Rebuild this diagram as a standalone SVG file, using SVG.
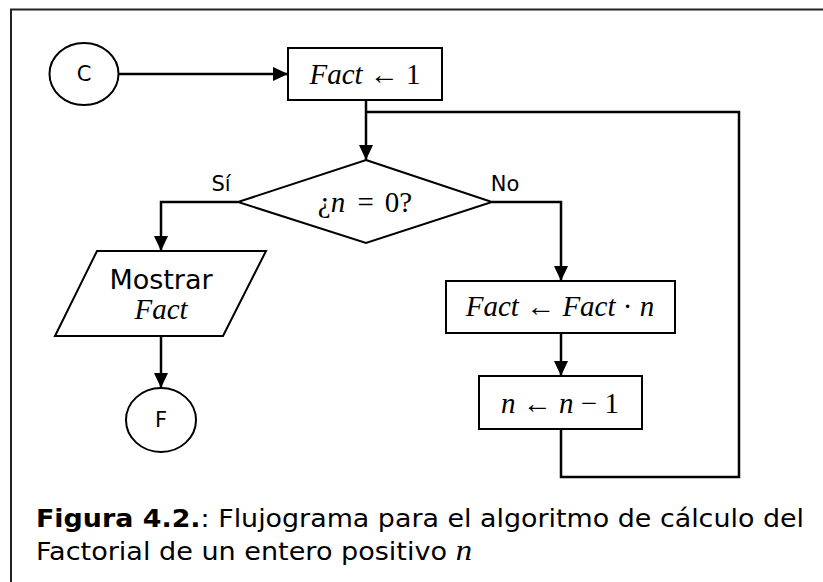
<svg xmlns="http://www.w3.org/2000/svg" width="823" height="582" viewBox="0 0 823 582">
  <style>
    .shape { fill: #fff; stroke: #000; stroke-width: 2; }
    .wire { fill: none; stroke: #000; stroke-width: 2.5; }
    .sans { font-family: "DejaVu Sans", Verdana, sans-serif; fill: #000; }
    .math { font-family: "Liberation Serif", "DejaVu Serif", serif; font-style: italic; font-size: 29px; fill: #000; }
    .up { font-style: normal; }
  </style>
  <defs>
    <marker id="arrow" markerUnits="userSpaceOnUse" markerWidth="15" markerHeight="14" refX="15" refY="7" orient="auto">
      <path d="M0,0 L15,7 L0,14 Z" fill="#000"/>
    </marker>
  </defs>

  <rect width="823" height="582" fill="#fff"/>
  <!-- outer frame (open to the right and bottom) -->
  <path d="M11,590 V9.5 H830" fill="none" stroke="#222" stroke-width="2"/>

  <!-- connectors -->
  <g id="connectors">
    <path class="wire" d="M118,74 H288" marker-end="url(#arrow)"/>
    <path class="wire" d="M366,100 V160" marker-end="url(#arrow)"/>
    <path class="wire" d="M238,202 H161 V251" marker-end="url(#arrow)"/>
    <path class="wire" d="M161,336 V388" marker-end="url(#arrow)"/>
    <path class="wire" d="M492,202 H561 V281" marker-end="url(#arrow)"/>
    <path class="wire" d="M561,333 V376" marker-end="url(#arrow)"/>
    <path class="wire" d="M561,429 V477 H739 V112 H366"/>
    <text class="sans" x="221" y="191" font-size="21" text-anchor="middle">Sí</text>
    <text class="sans" x="505" y="191" font-size="21" text-anchor="middle">No</text>
  </g>

  <g id="start">
    <ellipse class="shape" cx="84" cy="74" rx="34.5" ry="31"/>
    <text class="sans" x="84" y="81" font-size="21" text-anchor="middle">C</text>
  </g>

  <g id="init">
    <rect class="shape" x="288" y="48" width="154" height="52"/>
    <text class="math" x="365" y="84" text-anchor="middle">Fact <tspan class="up">← 1</tspan></text>
  </g>

  <g id="decision">
    <polygon class="shape" points="366,160 492,202 366,243 238,202"/>
    <text class="math" x="365" y="212" text-anchor="middle"><tspan class="up">¿</tspan>n <tspan class="up" dx="5">=</tspan><tspan class="up" dx="11">0?</tspan></text>
  </g>

  <g id="output">
    <polygon class="shape" points="97,251 266,251 223,336 55,336"/>
    <text class="sans" x="161" y="289" font-size="27" text-anchor="middle">Mostrar</text>
    <text class="math" x="161" y="319" text-anchor="middle">Fact</text>
  </g>

  <g id="end">
    <ellipse class="shape" cx="161" cy="420" rx="35" ry="32"/>
    <text class="sans" x="161" y="427" font-size="21" text-anchor="middle">F</text>
  </g>

  <g id="multiply">
    <rect class="shape" x="446" y="281" width="229" height="52"/>
    <text class="math" x="560" y="316" text-anchor="middle">Fact <tspan class="up">← </tspan>Fact<tspan class="up"> · </tspan>n</text>
  </g>

  <g id="decrement">
    <rect class="shape" x="479" y="376" width="163" height="53"/>
    <text class="math" x="560" y="413" text-anchor="middle">n <tspan class="up">← </tspan>n<tspan class="up"> − 1</tspan></text>
  </g>

  <g id="caption" class="sans" font-size="24">
    <text x="36" y="527" textLength="768" lengthAdjust="spacingAndGlyphs"><tspan font-weight="bold">Figura 4.2.</tspan>: Flujograma para el algoritmo de cálculo del</text>
    <text x="36" y="560" textLength="436" lengthAdjust="spacingAndGlyphs">Factorial de un entero positivo <tspan class="math" font-size="26">n</tspan></text>
  </g>
</svg>
